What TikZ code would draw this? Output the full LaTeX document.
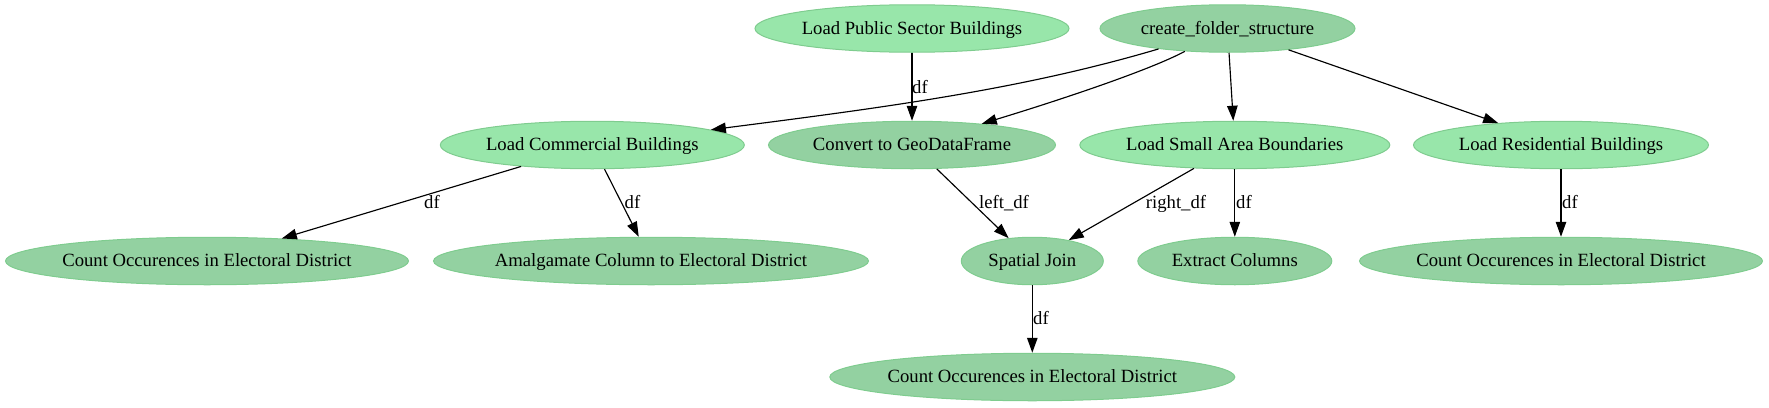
\documentclass[tikz,border=0pt]{standalone}
\usepackage{fontspec}
\setmainfont{Liberation Serif}
\usetikzlibrary{shapes.geometric,arrows.meta}
\definecolor{lightg}{RGB}{152,230,170}
\definecolor{darkg}{RGB}{147,209,161}
\definecolor{edgeg}{RGB}{127,204,143}
\tikzset{
  gnode/.style={ellipse, draw=edgeg, line width=1pt, inner sep=0pt,
    minimum height=47.5pt, text height=14pt, text depth=2.6pt,
    font=\fontsize{18.67}{22}\selectfont,
    execute at begin node={\hbox to 0pt\bgroup\hss},
    execute at end node={\hss\egroup}},
  lnode/.style={gnode, fill=lightg},
  dnode/.style={gnode, fill=darkg},
  conn/.style={line width=1.15pt, -{Triangle[length=15pt,width=10.5pt]}},
  lbl/.style={inner sep=0pt, anchor=base, font=\fontsize{18.67}{22}\selectfont}
}
\begin{document}
\begin{tikzpicture}[x=1pt,y=-1pt]
\useasboundingbox (0,0) rectangle (1769,407);
% row 1
\node[lnode, minimum width=314pt] (lpsb) at (912,28.5) {Load Public Sector Buildings};
\node[dnode, minimum width=255pt] (cfs) at (1227.5,28.5) {create\_folder\_structure};
% row 2
\node[lnode, minimum width=304pt] (lcb) at (592.3,145) {Load Commercial Buildings};
\node[dnode, minimum width=287pt] (cgdf) at (912,145) {Convert to GeoDataFrame};
\node[lnode, minimum width=310pt] (lsab) at (1234.8,145) {Load Small Area Boundaries};
\node[lnode, minimum width=295pt] (lrb) at (1561,145) {Load Residential Buildings};
% row 3
\node[dnode, minimum width=403pt] (coedl) at (207,261) {Count Occurences in Electoral District};
\node[dnode, minimum width=435pt] (amal) at (651,261) {Amalgamate Column to Electoral District};
\node[dnode, minimum width=142pt] (sj) at (1032.3,261) {Spatial Join};
\node[dnode, minimum width=194pt] (ec) at (1234.8,261) {Extract Columns};
\node[dnode, minimum width=403pt] (coedr) at (1561,261) {Count Occurences in Electoral District};
% row 4
\node[dnode, minimum width=405pt] (coedb) at (1032.3,377) {Count Occurences in Electoral District};
% connectors
\draw[conn] (lpsb) -- (cgdf);
\draw[conn] (cfs) .. controls (1020,90) and (880,108) .. (lcb);
\draw[conn] (cfs) .. controls (1150,70) and (1060,100) .. (cgdf);
\draw[conn] (cfs) -- (lsab);
\draw[conn] (cfs) -- (lrb);
\draw[conn] (lcb) -- (coedl);
\draw[conn] (lcb) -- (amal);
\draw[conn] (cgdf) -- (sj);
\draw[conn] (lsab) -- (sj);
\draw[conn] (lsab) -- (ec);
\draw[conn] (lrb) -- (coedr);
\draw[conn] (sj) -- (coedb);
% edge labels
\node[lbl] (t1) at (920,93) {df};
\node[lbl] (t2) at (432,208) {df};
\node[lbl] (t3) at (632.5,208) {df};
\node[lbl] (t4) at (1004,208) {left\_df};
\node[lbl] (t5) at (1176,208) {right\_df};
\node[lbl] (t6) at (1244,208) {df};
\node[lbl] (t7) at (1570,208) {df};
\node[lbl] (t8) at (1041,324) {df};
\end{tikzpicture}
\end{document}
